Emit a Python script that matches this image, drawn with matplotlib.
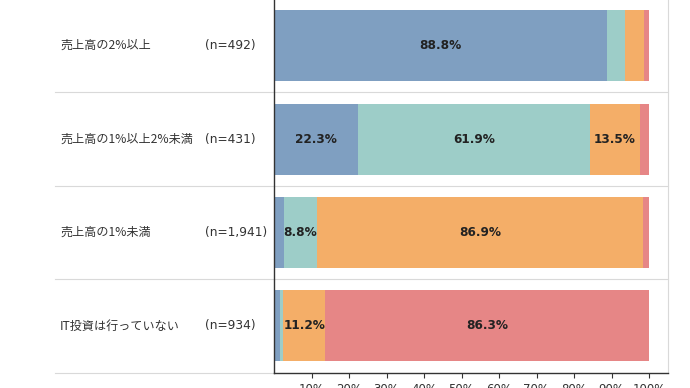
import numpy as np
import matplotlib.pyplot as plt

plt.rcParams['font.family'] = ['Noto Sans CJK JP', 'DejaVu Sans']

# データ
categories = ['売上高の2%以上', '売上高の1%以上2%未満', '売上高の1%未満', 'IT投資は行っていない']
n_labels = ['(n=492)', '(n=431)', '(n=1,941)', '(n=934)']
seg1 = [88.8, 22.3, 2.7, 1.6]   # 青
seg2 = [4.7, 61.9, 8.8, 0.9]    # 水色
seg3 = [5.1, 13.5, 86.9, 11.2]  # オレンジ
seg4 = [1.4, 2.3, 1.6, 86.3]    # 赤
ticks = [10, 20, 30, 40, 50, 60, 70, 80, 90, 100]
tick_labels = ['10%', '20%', '30%', '40%', '50%', '60%', '70%', '80%', '90%', '100%']

colors = ['#7f9fc1', '#9dcdc8', '#f4ae68', '#e68686']

W, H = 690, 388
fig = plt.figure(figsize=(W / 100, H / 100), dpi=100)
x0, x1 = 274, 668
ybot, ytop = 372.7, -1.0
ax = fig.add_axes([x0 / W, 1 - ybot / H, (x1 - x0) / W, (ybot - ytop) / H])

y = np.arange(len(categories))
left = np.zeros(len(categories))
for vals, c in zip([seg1, seg2, seg3, seg4], colors):
    vals = np.array(vals)
    ax.barh(y, vals, left=left, height=0.76, color=c, edgecolor='none')
    for i in range(len(y)):
        if vals[i] >= 8:
            ax.text(left[i] + vals[i] / 2, y[i], '{:.1f}%'.format(vals[i]),
                    ha='center', va='center', fontsize=8.7, fontweight='bold',
                    color='#222222', family='DejaVu Sans')
    left = left + vals

ax.set_xlim(0, (x1 - x0) / 3.75)
ax.set_ylim(len(categories) - 0.5, -0.5)
ax.set_yticks([])
ax.set_xticks(ticks)
ax.set_xticklabels(tick_labels, fontsize=8.5, color='#333333', family='DejaVu Sans')
ax.tick_params(axis='x', direction='out', length=3.5, width=0.8, color='#333333', pad=4)

ax.spines['top'].set_visible(False)
ax.spines['left'].set_color('#333333')
ax.spines['left'].set_linewidth(1.0)
ax.spines['bottom'].set_color('#333333')
ax.spines['bottom'].set_linewidth(1.0)
ax.spines['right'].set_color('#d9d9d9')
ax.spines['right'].set_linewidth(0.8)

# 区切り線
for yy in [0.5, 1.5, 2.5]:
    ax.axhline(yy, xmin=(55 - x0) / (x1 - x0), xmax=1, color='#d9d9d9', lw=0.8, clip_on=False)
ax.axhline(3.5, xmin=(55 - x0) / (x1 - x0), xmax=0, color='#d9d9d9', lw=0.8, clip_on=False)

# 左側のラベル
trans = ax.get_yaxis_transform()
for i in range(len(categories)):
    ax.text((60 - x0) / (x1 - x0), y[i], categories[i], transform=trans,
            ha='left', va='center', fontsize=8.7, color='#333333')
    ax.text((205 - x0) / (x1 - x0), y[i], n_labels[i], transform=trans,
            ha='left', va='center', fontsize=8.8, color='#333333',
            family=['DejaVu Sans'])

fig.savefig('out.png', dpi=100)
